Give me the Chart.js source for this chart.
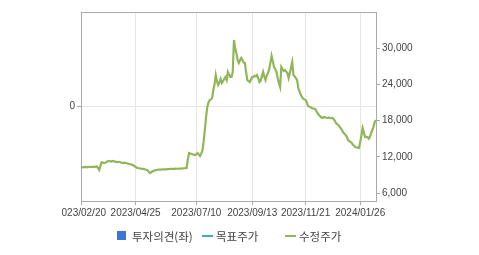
<!DOCTYPE html>
<html>
<head>
<meta charset="utf-8">
<script src="https://cdn.jsdelivr.net/npm/chart.js@4/dist/chart.umd.min.js"></script>
<style>
  html,body{margin:0;padding:0;background:#fff;}
  body{width:479px;height:255px;overflow:hidden;position:relative;}
  #wrap{position:absolute;left:61px;top:0;width:418px;height:255px;}
  .lg{position:absolute;top:229px;height:14px;font:11.5px "Noto Sans CJK KR","Noto Sans",sans-serif;color:#444;line-height:14px;white-space:nowrap;}
  .sw{position:absolute;}
</style>
</head>
<body>
<div id="wrap"><canvas id="c" width="418" height="255"></canvas></div>
<div id="legend"></div>
<script>
// ---- data ----
const startDate = '2023-02-20';
const holidays = ['2023-03-01','2023-05-01','2023-05-05','2023-05-29','2023-06-06','2023-08-15',
  '2023-09-28','2023-09-29','2023-10-02','2023-10-03','2023-10-09','2023-12-25','2023-12-29',
  '2024-01-01','2024-02-09','2024-02-12'];
const tickDates = ['2023/02/20','2023/04/25','2023/07/10','2023/09/13','2023/11/21','2024/01/26'];
const rightTicks = [6000,12000,18000,24000,30000];
const leftTicks = [0];
const prices = [
  10300,10250,10280,10320,10300,10260,10300,10340,10310,10330,
  10350,10320,10360,10400,10150,9800,10500,11100,11050,10950,
  11000,11150,11250,11300,11250,11200,11300,11250,11200,11150,
  11100,11150,11130,11050,11000,10980,11020,10970,10900,10850,
  10800,10750,10690,10600,10450,10300,10200,10140,10100,10050,
  10020,10000,9950,9900,9860,9700,9500,9310,9450,9600,
  9690,9750,9800,9850,9870,9860,9880,9900,9920,9910,
  9925,9950,9960,9980,10000,10020,10010,10000,10030,10020,
  10020,10030,10040,10060,10080,10100,10120,10140,11500,12620,
  12550,12460,12400,12350,12290,12400,12620,12400,12130,12500,
  13000,14500,16430,18500,20240,21000,21390,21500,21725,23050,
  24000,25530,24500,23880,24300,24870,24210,24500,24900,25200,
  24700,26030,25600,25200,25200,26030,31320,30000,29170,28000,
  27520,28000,28350,28000,27600,27520,26000,24700,24500,24370,
  24800,25200,25200,25400,25300,25530,25000,24370,24600,25300,
  26030,25300,24700,25400,25860,26500,27500,28680,27800,26860,
  26500,26030,25000,24200,23550,26860,26500,26200,26360,26100,
  25860,25040,25800,26800,27680,25530,25300,25000,24700,23380,
  22800,22300,21890,21600,21500,21390,21000,20400,20300,20200,
  20070,20000,19950,19900,19500,19200,18910,18700,18500,18420,
  18580,18550,18450,18420,18500,18420,18400,18420,18300,18000,
  17590,17400,17260,17000,16700,16430,16000,15800,15600,15300,
  14770,14600,14450,14280,14000,13800,13620,13550,13500,13450,
  14440,15500,16760,16000,15270,15300,15270,15000,15270,15900,
  16430,17000,17750,18080
];
const legendLabels = ['투자의견(좌)','목표주가','수정주가'];
const legendColors = ['#3a78d8','#45aac8','#92b55a'];
const legendLeft = [117,202,285];

// trading-day category labels
const labels = [];
(function(){
  const d = new Date(startDate + 'T00:00:00Z');
  while (labels.length < prices.length) {
    const iso = d.toISOString().slice(0,10);
    const wd = d.getUTCDay();
    if (wd !== 0 && wd !== 6 && holidays.indexOf(iso) < 0) labels.push(iso.replace(/-/g,'/'));
    d.setUTCDate(d.getUTCDate() + 1);
  }
})();

const tickFont = {family:'"Liberation Sans", Arial, sans-serif', size:10};
const tickColor = '#444';
const axisGray = '#aaaaaa';
const gridGray = '#e6e6e6';

const topBorder = {
  id:'topBorder',
  afterDraw(chart){
    const a = chart.chartArea, ctx = chart.ctx;
    ctx.save();
    ctx.strokeStyle = axisGray; ctx.lineWidth = 1;
    ctx.beginPath(); ctx.moveTo(a.left, Math.round(a.top)+0.5); ctx.lineTo(a.right, Math.round(a.top)+0.5); ctx.stroke();
    ctx.restore();
  }
};

new Chart(document.getElementById('c'), {
  type:'line',
  data:{
    labels: labels,
    datasets:[{
      label: legendLabels[2],
      data: prices,
      yAxisID:'yR',
      borderColor: legendColors[2],
      borderWidth: 2.2,
      pointRadius: 0,
      tension: 0,
      fill: false
    }]
  },
  options:{
    responsive:false,
    animation:false,
    events:[],
    layout:{padding:{top:12, bottom:30, left:0, right:0}},
    plugins:{legend:{display:false}, tooltip:{enabled:false}},
    scales:{
      x:{
        type:'category',
        offset:false,
        afterBuildTicks(s){ s.ticks = tickDates.map(t => ({value: labels.indexOf(t)})).filter(t => t.value >= 0); },
        afterFit(s){ s.height = 24; s.paddingLeft = 0; s.paddingRight = 0; },
        ticks:{autoSkip:false, maxRotation:0, minRotation:0, font:tickFont, color:tickColor, padding:2},
        grid:{color:gridGray, tickColor:axisGray, tickLength:4, drawOnChartArea:true},
        border:{display:true, color:axisGray}
      },
      yL:{
        position:'left',
        min:-1, max:1,
        afterBuildTicks(s){ s.ticks = leftTicks.map(v => ({value:v})); },
        afterFit(s){ s.width = 20; },
        ticks:{font:tickFont, color:tickColor, padding:2},
        grid:{color:gridGray, tickColor:axisGray, tickLength:4},
        border:{display:true, color:axisGray}
      },
      yR:{
        position:'right',
        min:4680, max:35960,
        afterBuildTicks(s){ s.ticks = rightTicks.map(v => ({value:v})); },
        afterFit(s){ s.width = 103; },
        ticks:{font:tickFont, color:tickColor, padding:2, callback:v => v.toLocaleString('en-US')},
        grid:{drawOnChartArea:false, tickColor:axisGray, tickLength:4},
        border:{display:true, color:axisGray}
      }
    }
  },
  plugins:[topBorder]
});

// HTML legend
const lg = document.getElementById('legend');
legendLabels.forEach((t,i) => {
  const item = document.createElement('div');
  item.className = 'lg';
  item.style.left = legendLeft[i] + 'px';
  const sw = document.createElement('span');
  sw.className = 'sw';
  if (i === 0) {
    sw.style.cssText = 'left:0;top:2px;width:9px;height:9px;background:' + legendColors[i];
  } else {
    sw.style.cssText = 'left:0;top:6px;width:11px;height:2px;background:' + legendColors[i];
  }
  const tx = document.createElement('span');
  tx.textContent = t;
  tx.style.cssText = 'position:absolute;top:0;left:' + (i === 0 ? 15 : 14) + 'px';
  item.appendChild(sw); item.appendChild(tx);
  lg.appendChild(item);
});
</script>
</body>
</html>
